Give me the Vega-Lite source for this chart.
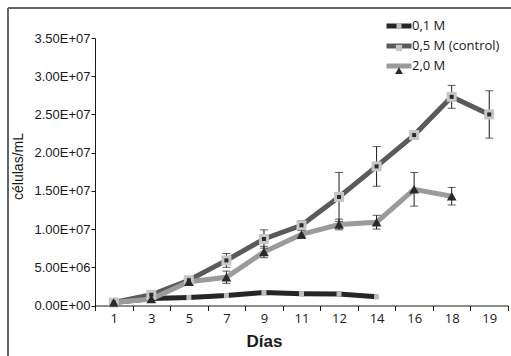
{
  "$schema": "https://vega.github.io/schema/vega-lite/v6.json",
  "width": 503,
  "height": 348,
  "autosize": {"type": "none"},
  "padding": {"left": 8, "top": 8, "right": 0, "bottom": 0},
  "background": "white",
  "config": {
    "view": {"stroke": "#666666", "strokeWidth": 2, "strokeDash": [503, 851, 348, 0]}
  },
  "data": {
    "values": [
      {"day": 1, "serie": "0,1 M", "v": 400000},
      {"day": 3, "serie": "0,1 M", "v": 900000},
      {"day": 5, "serie": "0,1 M", "v": 1050000},
      {"day": 7, "serie": "0,1 M", "v": 1300000},
      {"day": 9, "serie": "0,1 M", "v": 1700000},
      {"day": 11, "serie": "0,1 M", "v": 1550000},
      {"day": 12, "serie": "0,1 M", "v": 1500000},
      {"day": 14, "serie": "0,1 M", "v": 1150000},
      {"day": 1, "serie": "0,5 M (control)", "v": 400000},
      {"day": 3, "serie": "0,5 M (control)", "v": 1400000},
      {"day": 5, "serie": "0,5 M (control)", "v": 3300000},
      {"day": 7, "serie": "0,5 M (control)", "v": 5900000, "err": 900000},
      {"day": 9, "serie": "0,5 M (control)", "v": 8700000, "err": 1200000},
      {"day": 11, "serie": "0,5 M (control)", "v": 10500000, "err": 600000},
      {"day": 12, "serie": "0,5 M (control)", "v": 14200000, "err": 3200000},
      {"day": 14, "serie": "0,5 M (control)", "v": 18200000, "err": 2600000},
      {"day": 16, "serie": "0,5 M (control)", "v": 22300000},
      {"day": 18, "serie": "0,5 M (control)", "v": 27300000, "err": 1500000},
      {"day": 19, "serie": "0,5 M (control)", "v": 25000000, "err": 3100000},
      {"day": 1, "serie": "2,0 M", "v": 400000},
      {"day": 3, "serie": "2,0 M", "v": 850000},
      {"day": 5, "serie": "2,0 M", "v": 3100000},
      {"day": 7, "serie": "2,0 M", "v": 3700000, "err": 800000},
      {"day": 9, "serie": "2,0 M", "v": 7000000, "err": 750000},
      {"day": 11, "serie": "2,0 M", "v": 9300000, "err": 500000},
      {"day": 12, "serie": "2,0 M", "v": 10600000, "err": 700000},
      {"day": 14, "serie": "2,0 M", "v": 10900000, "err": 900000},
      {"day": 16, "serie": "2,0 M", "v": 15200000, "err": 2200000},
      {"day": 18, "serie": "2,0 M", "v": 14300000, "err": 1150000}
    ]
  },
  "encoding": {
    "x": {
      "field": "day",
      "type": "ordinal",
      "scale": {"type": "band", "range": [87, 500], "paddingInner": 0, "paddingOuter": 0},
      "axis": {
        "title": "Días",
        "titleFont": "Liberation Sans",
        "titleFontSize": 17,
        "titleFontWeight": "bold",
        "titleColor": "#1a1a1a",
        "titleX": 256,
        "titlePadding": 8,
        "labelFont": "Open Sans",
        "labelFontSize": 13,
        "labelColor": "#1a1a1a",
        "labelAngle": 0,
        "labelPadding": 2,
        "tickBand": "extent",
        "tickSize": 5,
        "tickColor": "#1a1a1a",
        "domainColor": "#1a1a1a",
        "offset": -50.5,
        "grid": false
      }
    },
    "y": {
      "field": "v",
      "type": "quantitative",
      "scale": {"domain": [0, 35000000], "range": [297.5, 30], "nice": false, "zero": true},
      "axis": {
        "title": "células/mL",
        "titleFont": "Liberation Sans",
        "titleFontSize": 14,
        "titleFontWeight": "normal",
        "titleColor": "#1a1a1a",
        "titleY": 158,
        "titlePadding": 8,
        "values": [0, 5000000, 10000000, 15000000, 20000000, 25000000, 30000000, 35000000],
        "labelExpr": "replace(format(datum.value, '.2e'), 'e+', 'E+0')",
        "labelFont": "Liberation Sans",
        "labelFontSize": 13,
        "labelColor": "#1a1a1a",
        "labelPadding": 1,
        "tickSize": 4,
        "tickColor": "#1a1a1a",
        "domainColor": "#1a1a1a",
        "offset": -87,
        "grid": false
      }
    }
  },
  "layer": [
    {
      "mark": {"type": "line", "strokeWidth": 5},
      "encoding": {
        "color": {
          "field": "serie",
          "type": "nominal",
          "scale": {"range": ["#262626", "#5a5a5a", "#9b9b9b"]},
          "legend": {
            "title": null,
            "orient": "none",
            "legendX": 382,
            "legendY": 9,
            "symbolType": "M-2,0H2",
            "symbolSize": 156,
            "symbolStrokeWidth": 5,
            "labelFont": "Open Sans",
            "labelFontSize": 13,
            "labelColor": "#1a1a1a",
            "labelOffset": 4,
            "rowPadding": 0,
            "padding": 0
          }
        }
      }
    },
    {
      "transform": [{"filter": "isValid(datum.err)"}],
      "mark": {"type": "errorbar", "ticks": {"size": 8}, "color": "#1a1a1a", "thickness": 1},
      "encoding": {
        "yError": {"field": "err"}
      }
    },
    {
      "transform": [{"filter": "datum.serie == '0,1 M'"}],
      "mark": {"type": "square", "size": 25, "color": "#bdbdbd", "opacity": 1}
    },
    {
      "transform": [{"filter": "datum.serie == '0,5 M (control)'"}],
      "mark": {"type": "square", "size": 100, "color": "#c6c6c6", "opacity": 1}
    },
    {
      "transform": [{"filter": "datum.serie == '0,5 M (control)'"}],
      "mark": {"type": "square", "size": 16, "color": "#2a2a2a", "opacity": 1}
    },
    {
      "transform": [{"filter": "datum.serie == '2,0 M'"}],
      "mark": {"type": "point", "shape": "triangle-up", "filled": true, "size": 95, "color": "#2a2a2a", "opacity": 1}
    },
    {
      "mark": {"type": "point", "filled": true, "opacity": 0, "strokeWidth": 0},
      "encoding": {
        "fill": {
          "field": "serie",
          "type": "nominal",
          "scale": {"domain": ["2,0 M", "0,5 M (control)", "0,1 M"], "range": ["#2a2a2a", "#c6c6c6", "#bdbdbd"]},
          "legend": {
            "title": null,
            "orient": "none",
            "legendX": 382,
            "legendY": 9,
            "values": ["0,1 M", "0,5 M (control)", "2,0 M"],
            "symbolSize": 156,
            "symbolOpacity": 1,
            "symbolStrokeWidth": 5,
            "symbolStrokeColor": "transparent",
            "labelExpr": "''",
            "labelFontSize": 13,
            "labelOffset": 4,
            "rowPadding": -6.3,
            "padding": 0
          }
        },
        "shape": {
          "field": "serie",
          "type": "nominal",
          "scale": {"domain": ["2,0 M", "0,5 M (control)", "0,1 M"], "range": ["M0,-0.62L0.62,0.48H-0.62Z", "M-0.5,-0.5H0.5V0.5H-0.5Z", "M-0.4,-0.44H0.4V0.44H-0.4Z"]},
          "legend": {
            "title": null,
            "orient": "none",
            "legendX": 382,
            "legendY": 9,
            "values": ["0,1 M", "0,5 M (control)", "2,0 M"],
            "symbolSize": 156,
            "symbolOpacity": 1,
            "symbolStrokeWidth": 5,
            "symbolStrokeColor": "transparent",
            "labelExpr": "''",
            "labelFontSize": 13,
            "labelOffset": 4,
            "rowPadding": -6.3,
            "padding": 0
          }
        }
      }
    }
  ]
}
